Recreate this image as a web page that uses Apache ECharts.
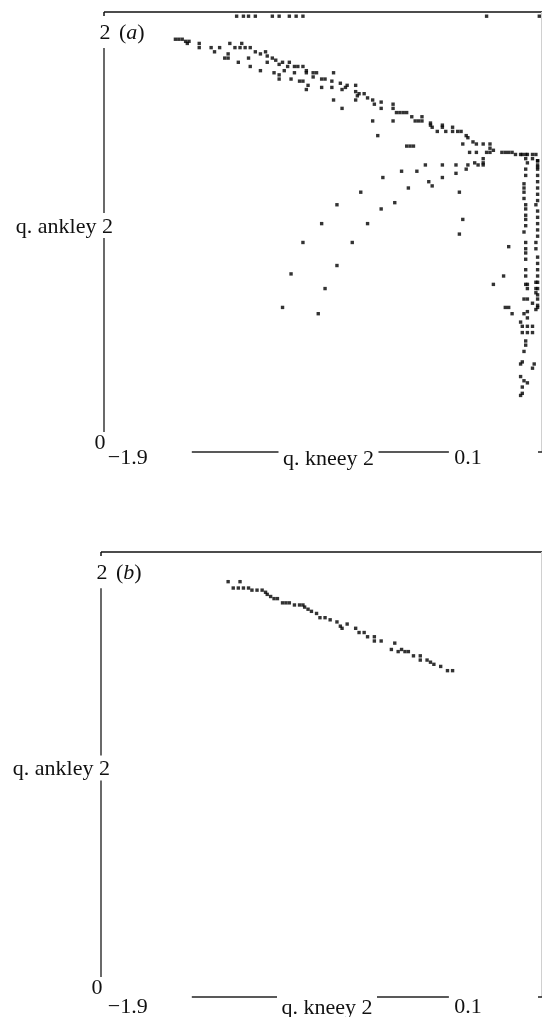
<!DOCTYPE html>
<html><head><meta charset="utf-8">
<script src="https://cdn.jsdelivr.net/npm/echarts@6/dist/echarts.min.js"></script>
<style>html,body{margin:0;padding:0;background:#fff}#c{width:542px;height:1017px}</style>
</head><body><div id="c"></div>
<script>
// axis ranges and tick labels
const xRange = [-2.04, 0.53];
const yRange = [0, 2.1];
const xTickValues = [-1.9, 0.1];
const xTickLabels = ['\u22121.9', '0.1'];
const yTickValues = [0, 2];
const yTickLabels = ['0', '2'];
const xName = 'q. kneey 2';
const yName = 'q. ankley 2';
const panelTags = ['a', 'b'];

// panel (a) data
const aTopRow = [[-1.26,2.08],[-1.22,2.08],[-1.19,2.08],[-1.15,2.08],[-1.05,2.08],[-1.01,2.08],[-0.95,2.08],[-0.91,2.08],[-0.87,2.08],[0.21,2.08],[0.52,2.08]];
const aBand = [
[-1.62,1.97],[-1.60,1.97],[-1.58,1.97],[-1.56,1.96],[-1.55,1.95],[-1.54,1.96],[-1.48,1.95],[-1.48,1.93],[-1.41,1.93],[-1.39,1.91],[-1.36,1.93],[-1.30,1.95],[-1.31,1.90],[-1.33,1.88],[-1.31,1.88],[-1.23,1.95],[-1.27,1.93],[-1.24,1.93],[-1.21,1.93],[-1.18,1.93],[-1.25,1.86],[-1.19,1.88],[-1.18,1.84],[-1.15,1.91],[-1.12,1.90],[-1.12,1.82],[-1.09,1.91],[-1.08,1.89],[-1.05,1.88],[-1.08,1.86],[-1.03,1.87],[-1.01,1.85],[-1.04,1.81],[-1.01,1.80],[-1.01,1.78],[-0.99,1.86],[-0.96,1.84],[-0.98,1.82],[-0.95,1.86],[-0.94,1.78],[-0.92,1.84],[-0.92,1.81],[-0.90,1.84],[-0.87,1.84],[-0.85,1.82],[-0.85,1.81],[-0.89,1.77],[-0.87,1.77],[-0.84,1.75],[-0.85,1.73],[-0.81,1.81],[-0.79,1.81],[-0.81,1.79],[-0.76,1.78],[-0.76,1.74],[-0.74,1.78],[-0.69,1.81],[-0.70,1.77],[-0.70,1.74],[-0.69,1.68],[-0.65,1.76],[-0.64,1.73],[-0.62,1.74],[-0.64,1.64],[-0.61,1.75],[-0.56,1.75],[-0.56,1.72],[-0.56,1.68],[-0.55,1.70],[-0.54,1.71],[-0.51,1.71],[-0.49,1.69],[-0.46,1.68],[-0.45,1.66],[-0.41,1.67],[-0.41,1.64],[-0.46,1.58],[-0.43,1.51],[-0.34,1.66],[-0.34,1.64],[-0.32,1.62],[-0.30,1.62],[-0.28,1.62],[-0.26,1.62],[-0.34,1.58],[-0.23,1.60],[-0.21,1.58],[-0.19,1.58],[-0.17,1.60],[-0.17,1.58],[-0.12,1.57],[-0.12,1.56],[-0.11,1.55],[-0.08,1.53],[-0.05,1.56],[-0.05,1.55],[-0.03,1.53],[0.01,1.55],[0.01,1.53],[0.04,1.53],[0.06,1.53],[0.09,1.51],[0.10,1.50],[0.07,1.47],[0.13,1.48],[0.15,1.47],[0.19,1.47],[-0.26,1.46],[-0.24,1.46],[-0.22,1.46],[0.11,1.43],[0.15,1.43],[0.23,1.47],[0.23,1.45],[0.23,1.43],[0.25,1.44],[0.21,1.43],[0.30,1.43],[0.32,1.43],[0.34,1.43],[0.36,1.43],[0.38,1.42],[0.41,1.42],[0.42,1.42],[0.44,1.42],[0.45,1.42],[0.48,1.42],[0.48,1.40],[0.45,1.38],[0.51,1.39],[0.51,1.37],[0.51,1.36],[0.10,1.37],[0.14,1.38],[0.16,1.37],[0.19,1.40],[0.19,1.38],[0.19,1.37],[0.09,1.35]
];
const aArcs = [[-0.15,1.37],[-0.05,1.37],[0.03,1.37],[0.03,1.33],[-0.29,1.34],[-0.20,1.34],[-0.05,1.31],[-0.40,1.31],[-0.13,1.29],[-0.11,1.27],[-0.25,1.26],[-0.53,1.24],[0.05,1.24],[-0.33,1.19],[-0.67,1.18],[-0.41,1.16],[-0.76,1.09],[-0.49,1.09],[0.07,1.11],[0.05,1.04],[-0.87,1.00],[-0.58,1.00],[0.34,0.98],[-0.67,0.89],[-0.94,0.85],[0.31,0.84],[0.25,0.80],[-0.74,0.78],[-0.99,0.69],[-0.78,0.66],[0.32,0.69],[0.34,0.69],[0.36,0.66]];
const aColA = [[0.44,1.40],[0.44,1.35],[0.44,1.32],[0.43,1.28],[0.43,1.26],[0.43,1.24],[0.43,1.21],[0.44,1.18],[0.44,1.16],[0.44,1.13],[0.44,1.11],[0.44,1.08],[0.43,1.05],[0.44,1.00],[0.44,0.97],[0.44,0.95],[0.44,0.92],[0.44,0.87],[0.44,0.84],[0.44,0.80],[0.43,0.73],[0.43,0.66]];
const aColB = [[0.50,1.42],[0.51,1.39],[0.51,1.35],[0.51,1.32],[0.51,1.29],[0.51,1.26],[0.51,1.23],[0.51,1.20],[0.50,1.18],[0.51,1.15],[0.51,1.12],[0.51,1.09],[0.51,1.06],[0.51,1.03],[0.50,1.00],[0.50,0.97],[0.51,0.93],[0.51,0.90],[0.51,0.87],[0.51,0.84],[0.51,0.81],[0.51,0.78],[0.51,0.75],[0.51,0.73],[0.51,0.70]];
const aTail = [[0.45,0.80],[0.45,0.78],[0.50,0.81],[0.50,0.78],[0.50,0.76],[0.45,0.73],[0.48,0.71],[0.51,0.69],[0.50,0.68],[0.45,0.67],[0.45,0.64],[0.41,0.62],[0.42,0.60],[0.45,0.60],[0.48,0.60],[0.42,0.57],[0.45,0.57],[0.48,0.57],[0.44,0.53],[0.44,0.51],[0.43,0.48],[0.42,0.43],[0.41,0.42],[0.49,0.42],[0.48,0.40],[0.41,0.36],[0.43,0.34],[0.45,0.33],[0.42,0.31],[0.42,0.28],[0.41,0.27]];

// panel (b) data
const bBand = [[-1.31,1.96],[-1.24,1.96],[-1.28,1.93],[-1.25,1.93],[-1.22,1.93],[-1.19,1.93],[-1.17,1.92],[-1.14,1.92],[-1.11,1.92],[-1.09,1.91],[-1.08,1.90],[-1.06,1.89],[-1.04,1.88],[-1.02,1.88],[-0.99,1.86],[-0.97,1.86],[-0.95,1.86],[-0.92,1.85],[-0.89,1.85],[-0.87,1.85],[-0.86,1.84],[-0.84,1.83],[-0.82,1.82],[-0.79,1.81],[-0.77,1.79],[-0.74,1.79],[-0.71,1.78],[-0.67,1.77],[-0.65,1.75],[-0.64,1.74],[-0.61,1.76],[-0.56,1.74],[-0.54,1.72],[-0.51,1.72],[-0.49,1.70],[-0.45,1.70],[-0.45,1.68],[-0.41,1.68],[-0.33,1.67],[-0.35,1.64],[-0.31,1.63],[-0.29,1.64],[-0.27,1.63],[-0.25,1.63],[-0.22,1.61],[-0.18,1.61],[-0.18,1.59],[-0.14,1.59],[-0.12,1.58],[-0.10,1.57],[-0.06,1.56],[-0.02,1.54],[0.01,1.54]];

const FONT = '22px "Liberation Serif", "Times New Roman", serif';
const chart = echarts.init(document.getElementById('c'));

function axisPair(idx) {
  return {
    x: {type:'value', gridIndex:idx, min:xRange[0], max:xRange[1], show:false},
    y: {type:'value', gridIndex:idx, min:yRange[0], max:yRange[1], show:false}
  };
}
const ax0 = axisPair(0), ax1 = axisPair(1);
function sc(data, idx) {
  return {type:'scatter', data:data, xAxisIndex:idx, yAxisIndex:idx, symbol:'rect', symbolSize:3.4,
    itemStyle:{color:'#000'}, silent:true, animation:false};
}
chart.setOption({
  animation:false,
  grid:[{left:104, top:12, width:437, height:440},{left:104, top:552, width:437, height:445}],
  xAxis:[ax0.x, ax1.x],
  yAxis:[ax0.y, ax1.y],
  series:[sc(aTopRow,0), sc(aBand,0), sc(aArcs,0), sc(aColA,0), sc(aColB,0), sc(aTail,0), sc(bBand,1)]
});

function P(g, x, y) { return chart.convertToPixel({gridIndex:g}, [x, y]); }
const panels = [{g:0, shift:0, drop:6.5}, {g:1, shift:-3, drop:10}];
const els = [];
function line(x1,y1,x2,y2,stroke,w){ els.push({type:'line', silent:true, shape:{x1,y1,x2,y2}, style:{stroke:stroke, lineWidth:w}}); }
function text(t,x,y,align,extra){ els.push({type:'text', silent:true, x:x, y:y, style:Object.assign({text:t, font:FONT, fill:'#111', textAlign:align, textVerticalAlign:'middle'}, extra||{})}); }
panels.forEach((p, i) => {
  const tl = P(p.g, xRange[0], yRange[1]);
  const br = P(p.g, xRange[1], yRange[0]);
  const top = tl[1], bottom = br[1], right = br[0];
  const left = tl[0] + p.shift;
  const y2 = P(p.g, xRange[0], yTickValues[1])[1];
  const nameY = (top + bottom) / 2 - 5;
  line(left, top, right + 1, top, '#111', 1.5);
  line(left, top, left, top + 4, '#111', 1.5);
  line(right + 0.5, top, right + 0.5, bottom, '#d0d0d0', 1);
  line(left, y2 + 15, left, nameY - 14, '#444', 1.6);
  line(left, nameY + 11, left, bottom - 20, '#444', 1.6);
  text(yTickLabels[1], left + 1, y2, 'center');
  text(yTickLabels[0], left - 4, bottom - 8.5, 'center');
  text('({it|' + panelTags[i] + '})', left + 15, y2, 'left',
       {rich:{it:{font:'italic 22px "Liberation Serif", serif', fill:'#111'}}});
  text(yName, left + 9, nameY, 'right');
  xTickValues.forEach((v, k) => {
    const px = P(p.g, v, 0)[0];
    text(xTickLabels[k], px, bottom + p.drop, 'center');
  });
  const nameX = (left + right) / 2 + 6;
  text(xName, nameX, bottom + p.drop + 1, 'center');
  const xl = P(p.g, xTickValues[0], 0)[0], xr = P(p.g, xTickValues[1], 0)[0];
  line(xl + 64, bottom, nameX - 50, bottom, '#222', 1.5);
  line(nameX + 50, bottom, xr - 19, bottom, '#222', 1.5);
  line(right - 3, bottom, right + 1, bottom, '#222', 1.5);
});
chart.setOption({graphic:{elements:els}});
</script></body></html>
